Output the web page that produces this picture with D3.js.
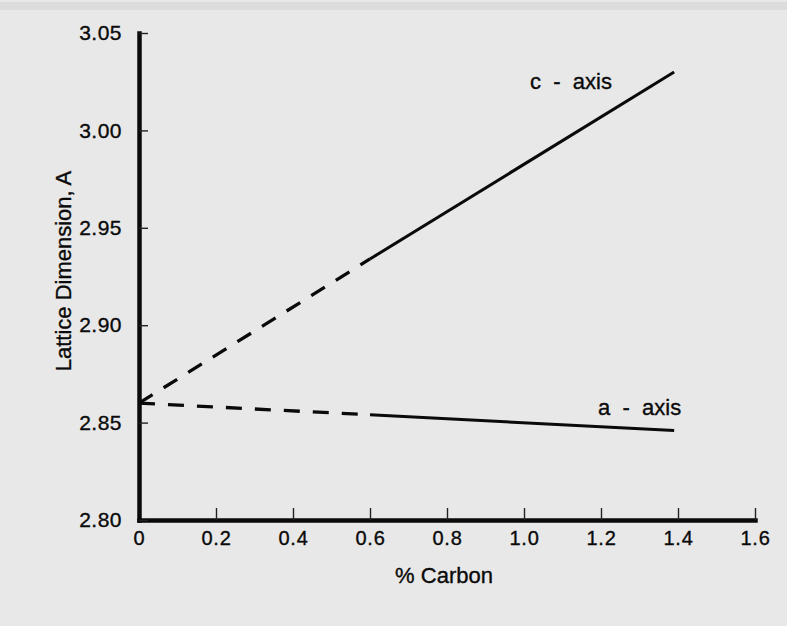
<!DOCTYPE html>
<html>
<head>
<meta charset="utf-8">
<script src="https://cdn.jsdelivr.net/npm/d3@7"></script>
<style>
  body { margin: 0; background: #e8e8e8; }
  svg { display: block; }
  text { font-family: "Liberation Sans", Arial, sans-serif; fill: #0a0a0a; stroke: #0a0a0a; stroke-width: 0.35px; }
</style>
</head>
<body>
<script>
// data
var carbon = [0, 0.6, 1.39];           // % carbon
var cAxis = [2.860, 2.934, 3.030];     // c - axis lattice dimension
var aAxis = [2.860, 2.854, 2.846];     // a - axis lattice dimension
var xTicks = [0, 0.2, 0.4, 0.6, 0.8, 1.0, 1.2, 1.4, 1.6];
var yTicks = [2.80, 2.85, 2.90, 2.95, 3.00, 3.05];

var width = 787, height = 626;

var svg = d3.select("body").append("svg")
    .attr("width", width)
    .attr("height", height);

// scanned page look: slightly darker strip on top
svg.append("rect")
    .attr("x", 0).attr("y", 0)
    .attr("width", width).attr("height", height)
    .attr("fill", "#e8e8e8");
svg.append("rect")
    .attr("x", 0).attr("y", 2)
    .attr("width", width).attr("height", 8)
    .attr("fill", "#dcdcdc");

var x = d3.scaleLinear().domain([0, 1.6]).range([139, 755]);
var y = d3.scaleLinear().domain([2.80, 3.05]).range([520, 33]);

// axes
var gx = svg.append("g")
    .attr("transform", "translate(0,520)")
    .call(d3.axisBottom(x)
        .tickValues(xTicks)
        .tickSize(-12)
        .tickSizeOuter(0)
        .tickPadding(11)
        .tickFormat(function(d) { return d === 0 ? "0" : d3.format(".1f")(d); }));

var gy = svg.append("g")
    .attr("transform", "translate(139,0)")
    .call(d3.axisLeft(y)
        .tickValues(yTicks)
        .tickSize(-9)
        .tickSizeOuter(0)
        .tickPadding(17)
        .tickFormat(d3.format(".2f")));

[gx, gy].forEach(function(g) {
    g.select(".domain")
        .attr("stroke", "#0a0a0a")
        .attr("stroke-width", 4.5)
        .attr("stroke-linecap", "square");
    g.selectAll(".tick line")
        .attr("stroke", "#222")
        .attr("stroke-width", 1.4);
    g.selectAll(".tick text")
        .attr("fill", "#0a0a0a")
        .style("font-family", "'Liberation Sans', Arial, sans-serif");
});
gx.selectAll(".tick text").style("font-size", "20px").style("letter-spacing", "0.8px");
gy.selectAll(".tick text").style("font-size", "21px").style("letter-spacing", "0.5px");

// lines: first segment dashed (extrapolated), rest solid
var series = [cAxis, aAxis];
var line = d3.line()
    .x(function(d) { return x(d[0]); })
    .y(function(d) { return y(d[1]); });

series.forEach(function(vals) {
    var pts = carbon.map(function(c, i) { return [c, vals[i]]; });
    svg.append("path")
        .datum(pts.slice(0, 2))
        .attr("d", line)
        .attr("fill", "none")
        .attr("stroke", "#0a0a0a")
        .attr("stroke-width", 3.3)
        .attr("stroke-dasharray", "16,13");
    svg.append("path")
        .datum(pts.slice(1))
        .attr("d", line)
        .attr("fill", "none")
        .attr("stroke", "#0a0a0a")
        .attr("stroke-width", 3);
});

// series labels
svg.append("text")
    .attr("x", 530)
    .attr("y", 89)
    .style("font-size", "22px")
    .style("white-space", "pre")
    .text("c  -  axis");

svg.append("text")
    .attr("x", 598)
    .attr("y", 415)
    .style("font-size", "22px")
    .style("white-space", "pre")
    .text("a  -  axis");

// axis titles
svg.append("text")
    .attr("x", 444)
    .attr("y", 583)
    .attr("text-anchor", "middle")
    .style("font-size", "22px")
    .text("% Carbon");

svg.append("text")
    .attr("transform", "translate(71,271) rotate(-90)")
    .attr("text-anchor", "middle")
    .style("font-size", "22px")
    .text("Lattice Dimension, A");
</script>
</body>
</html>
